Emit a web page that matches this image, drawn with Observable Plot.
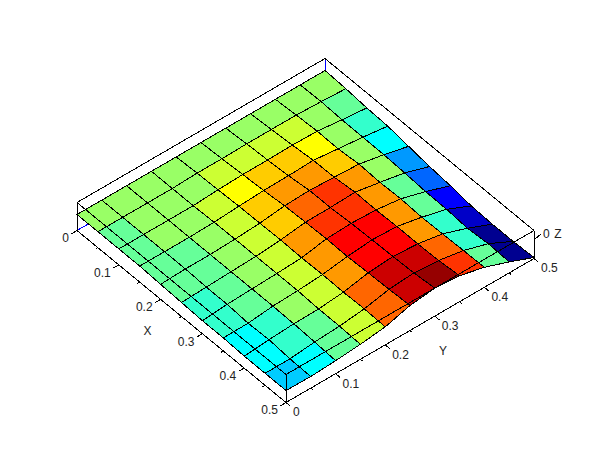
<!DOCTYPE html>
<html>
<head>
<meta charset="utf-8">
<style>html,body{margin:0;padding:0;background:#fff;overflow:hidden}svg{display:block}</style>
<script src="https://cdn.jsdelivr.net/npm/d3@7"></script>
<script src="https://cdn.jsdelivr.net/npm/@observablehq/plot@0.6"></script>
</head>
<body>
<script>
// grid coordinates
const xValues = [0,0.05,0.1,0.15,0.2,0.25,0.3,0.35,0.4,0.45,0.5];
const yValues = [0,0.05,0.1,0.15,0.2,0.25,0.3,0.35,0.4,0.45,0.5];
// surface height: one row per x value, one column per y value
const zRows = [
  [0,0,0,0,0,0,0,0,0,0,0],
  [0,0,0,0,1,1,1.5,1.5,1.5,0.5,-1],
  [0,0,0,0,1.5,2.4,2.5,3,2.5,-0.5,-3],
  [0,0,0,0.7,2.3,3.6,4,5,2.1,-0.7,-4],
  [-1,0,0,1,2.5,5.5,6.5,5.3,4,-1,-7],
  [-2,-1,0,1,3,6.3,6.6,7.5,3,-2,-10],
  [-3,-1,0,1,2.3,6.9,8,7,3.7,-3.5,-12],
  [-3,-2.7,0,1,2.8,6.4,8.7,7.6,2.5,-4,-15],
  [-4,-2,-0.5,0,2.3,7.3,9.2,7.5,3,-5.7,-16],
  [-4,-3.9,-1.5,0,2.9,8,10,8,3.6,-4,-16],
  [-4,-4.4,-3,-1,2,9,12,10,4,-5,-15]
];
// colour level of each facet
const facetLevels = [
  [9,9,9,9,9,9,9,9,9,9],
  [8,9,9,9,10,10,10,10,9,8],
  [8,9,9,10,11,12,12,11,9,7],
  [8,8,9,10,12,13,13,12,9,6],
  [8,8,9,10,12,14,15,13,9,4],
  [7,8,9,10,13,15,15,13,8,3],
  [7,8,9,10,13,16,16,13,8,2],
  [6,7,9,10,13,16,16,13,7,1],
  [6,7,8,10,14,17,17,14,7,0],
  [5,6,8,10,14,17,18,15,8,0]
];
const palette = ["#000090","#0000c8","#0000ff","#0066ff","#0099ff","#00ccff","#00ffff","#33ffcc","#66ff99","#99ff66","#ccff33","#ffff00","#ffcc00","#ff9900","#ff6600","#ff3300","#ff0000","#cc0000","#960000"];
// axis ticks
const xMajor = [0,0.1,0.2,0.3,0.4,0.5];
const xMinor = [0.05,0.15,0.25,0.35,0.45];
const yMajor = [0,0.1,0.2,0.3,0.4,0.5];
const yMinor = [0.05,0.15,0.25,0.35,0.45];
const zTicks = [0];
const zLow = -18.5, zHigh = 9.5;
const surfaceShift = -2.5;

// axonometric view of (x, y, z) on to the page
const view = {ox: 76.5, oy: 230, xx: 418, xy: 344, yx: 496, yy: -288, zpx: 28};
const sx = (x, y) => view.ox + view.xx * x + view.yx * y;
const sy = (x, y, z) => view.oy + view.xy * x + view.yy * y - view.zpx * (z - zLow) / (zHigh - zLow);

const facets = [];
for (let i = 0; i < 10; i++) {
  for (let j = 9; j >= 0; j--) {
    const id = i + "-" + j;
    const colour = palette[facetLevels[i][j]];
    for (const [a, b] of [[i,j],[i,j+1],[i+1,j+1],[i+1,j]]) {
      const x = xValues[a], y = yValues[b], z = zRows[a][b] + surfaceShift;
      facets.push({id, colour, px: sx(x, y), py: sy(x, y, z)});
    }
  }
}
const xMin = xValues[0], xMax = xValues[10], yMin = yValues[0], yMax = yValues[10];
const corner = (x, y, z) => ({px: sx(x, y), py: sy(x, y, z)});
const seg = (a, b) => ({x1: a.px, y1: a.py, x2: b.px, y2: b.py});

const backBlue = [
  seg(corner(xMin,yMin,zLow), corner(xMin,yMax,zLow)),
  seg(corner(xMin,yMax,zLow), corner(xMax,yMax,zLow)),
  seg(corner(xMin,yMax,zLow), corner(xMin,yMax,zHigh))
];
const backBlack = [
  seg(corner(xMin,yMin,zHigh), corner(xMin,yMax,zHigh)),
  seg(corner(xMin,yMax,zHigh), corner(xMax,yMax,zHigh)),
  seg(corner(xMin,yMin,zLow), corner(xMin,yMin,zHigh)),
  seg(corner(xMax,yMax,zLow), corner(xMax,yMax,zHigh))
];
const front = [
  seg(corner(xMin,yMin,zLow), corner(xMax,yMin,zLow)),
  seg(corner(xMax,yMin,zLow), corner(xMax,yMax,zLow)),
  seg(corner(xMin,yMin,zHigh), corner(xMax,yMin,zHigh)),
  seg(corner(xMax,yMin,zHigh), corner(xMax,yMax,zHigh)),
  seg(corner(xMax,yMin,zLow), corner(xMax,yMin,zHigh))
];
const xTick = (x, len) => seg(corner(x,yMin,zLow), corner(x,yMin-len,zLow));
const yTick = (y, len) => seg(corner(xMax,y,zLow), corner(xMax+len,y,zLow));
const ticks = [
  ...xMajor.map(v => xTick(v, 0.011)), ...xMinor.map(v => xTick(v, 0.005)),
  ...yMajor.map(v => yTick(v, 0.011)), ...yMinor.map(v => yTick(v, 0.005)),
  ...zTicks.map(v => seg(corner(xMax,yMax,v), corner(xMax,yMax+0.014,v+2)))
];
const segOpts = {x1:"x1", y1:"y1", x2:"x2", y2:"y2", strokeWidth:1, shapeRendering:"crispEdges"};
const font = {fontFamily:"'Liberation Sans',Arial,sans-serif", fontSize:12, fill:"#222"};

const xLabels = xMajor.map(v => ({...corner(v,yMin,zLow), t:String(v)}));
const yLabels = yMajor.map(v => ({...corner(xMax,v,zLow), t:String(v)}));
const zLabels = zTicks.map(v => ({...corner(xMax,yMax,v), t:String(v)}));
const titles = [
  {...corner((xMin+xMax)/2,yMin,zLow), t:"X", dx:-34, dy:15},
  {...corner(xMax,(yMin+yMax)/2,zLow), t:"Y", dx:33, dy:21},
  {...corner(xMax,yMax,zHigh), t:"Z", dx:24, dy:4}
];

const chart = Plot.plot({
  width: 610, height: 460, margin: 0,
  x: {domain:[0,610], range:[0,610], axis:null},
  y: {domain:[0,460], range:[0,460], axis:null},
  marks: [
    Plot.link(backBlue, {...segOpts, stroke:"#0000ff"}),
    Plot.link(backBlack, {...segOpts, stroke:"#000"}),
    Plot.line(facets, {x:"px", y:"py", z:"id", fill:"colour", stroke:"#000", strokeWidth:1, curve:"linear-closed", shapeRendering:"crispEdges"}),
    Plot.link(front, {...segOpts, stroke:"#000"}),
    Plot.link(ticks, {...segOpts, stroke:"#000"}),
    Plot.text(xLabels, {x:"px", y:"py", text:"t", textAnchor:"end", dx:-8, dy:8, ...font}),
    Plot.text(yLabels, {x:"px", y:"py", text:"t", textAnchor:"start", dx:7, dy:10, ...font}),
    Plot.text(zLabels, {x:"px", y:"py", text:"t", textAnchor:"start", dx:9, dy:-6, ...font}),
    ...titles.map(d => Plot.text([d], {x:"px", y:"py", text:"t", dx:d.dx, dy:d.dy, ...font}))
  ]
});
document.body.appendChild(chart);
</script>
</body>
</html>
